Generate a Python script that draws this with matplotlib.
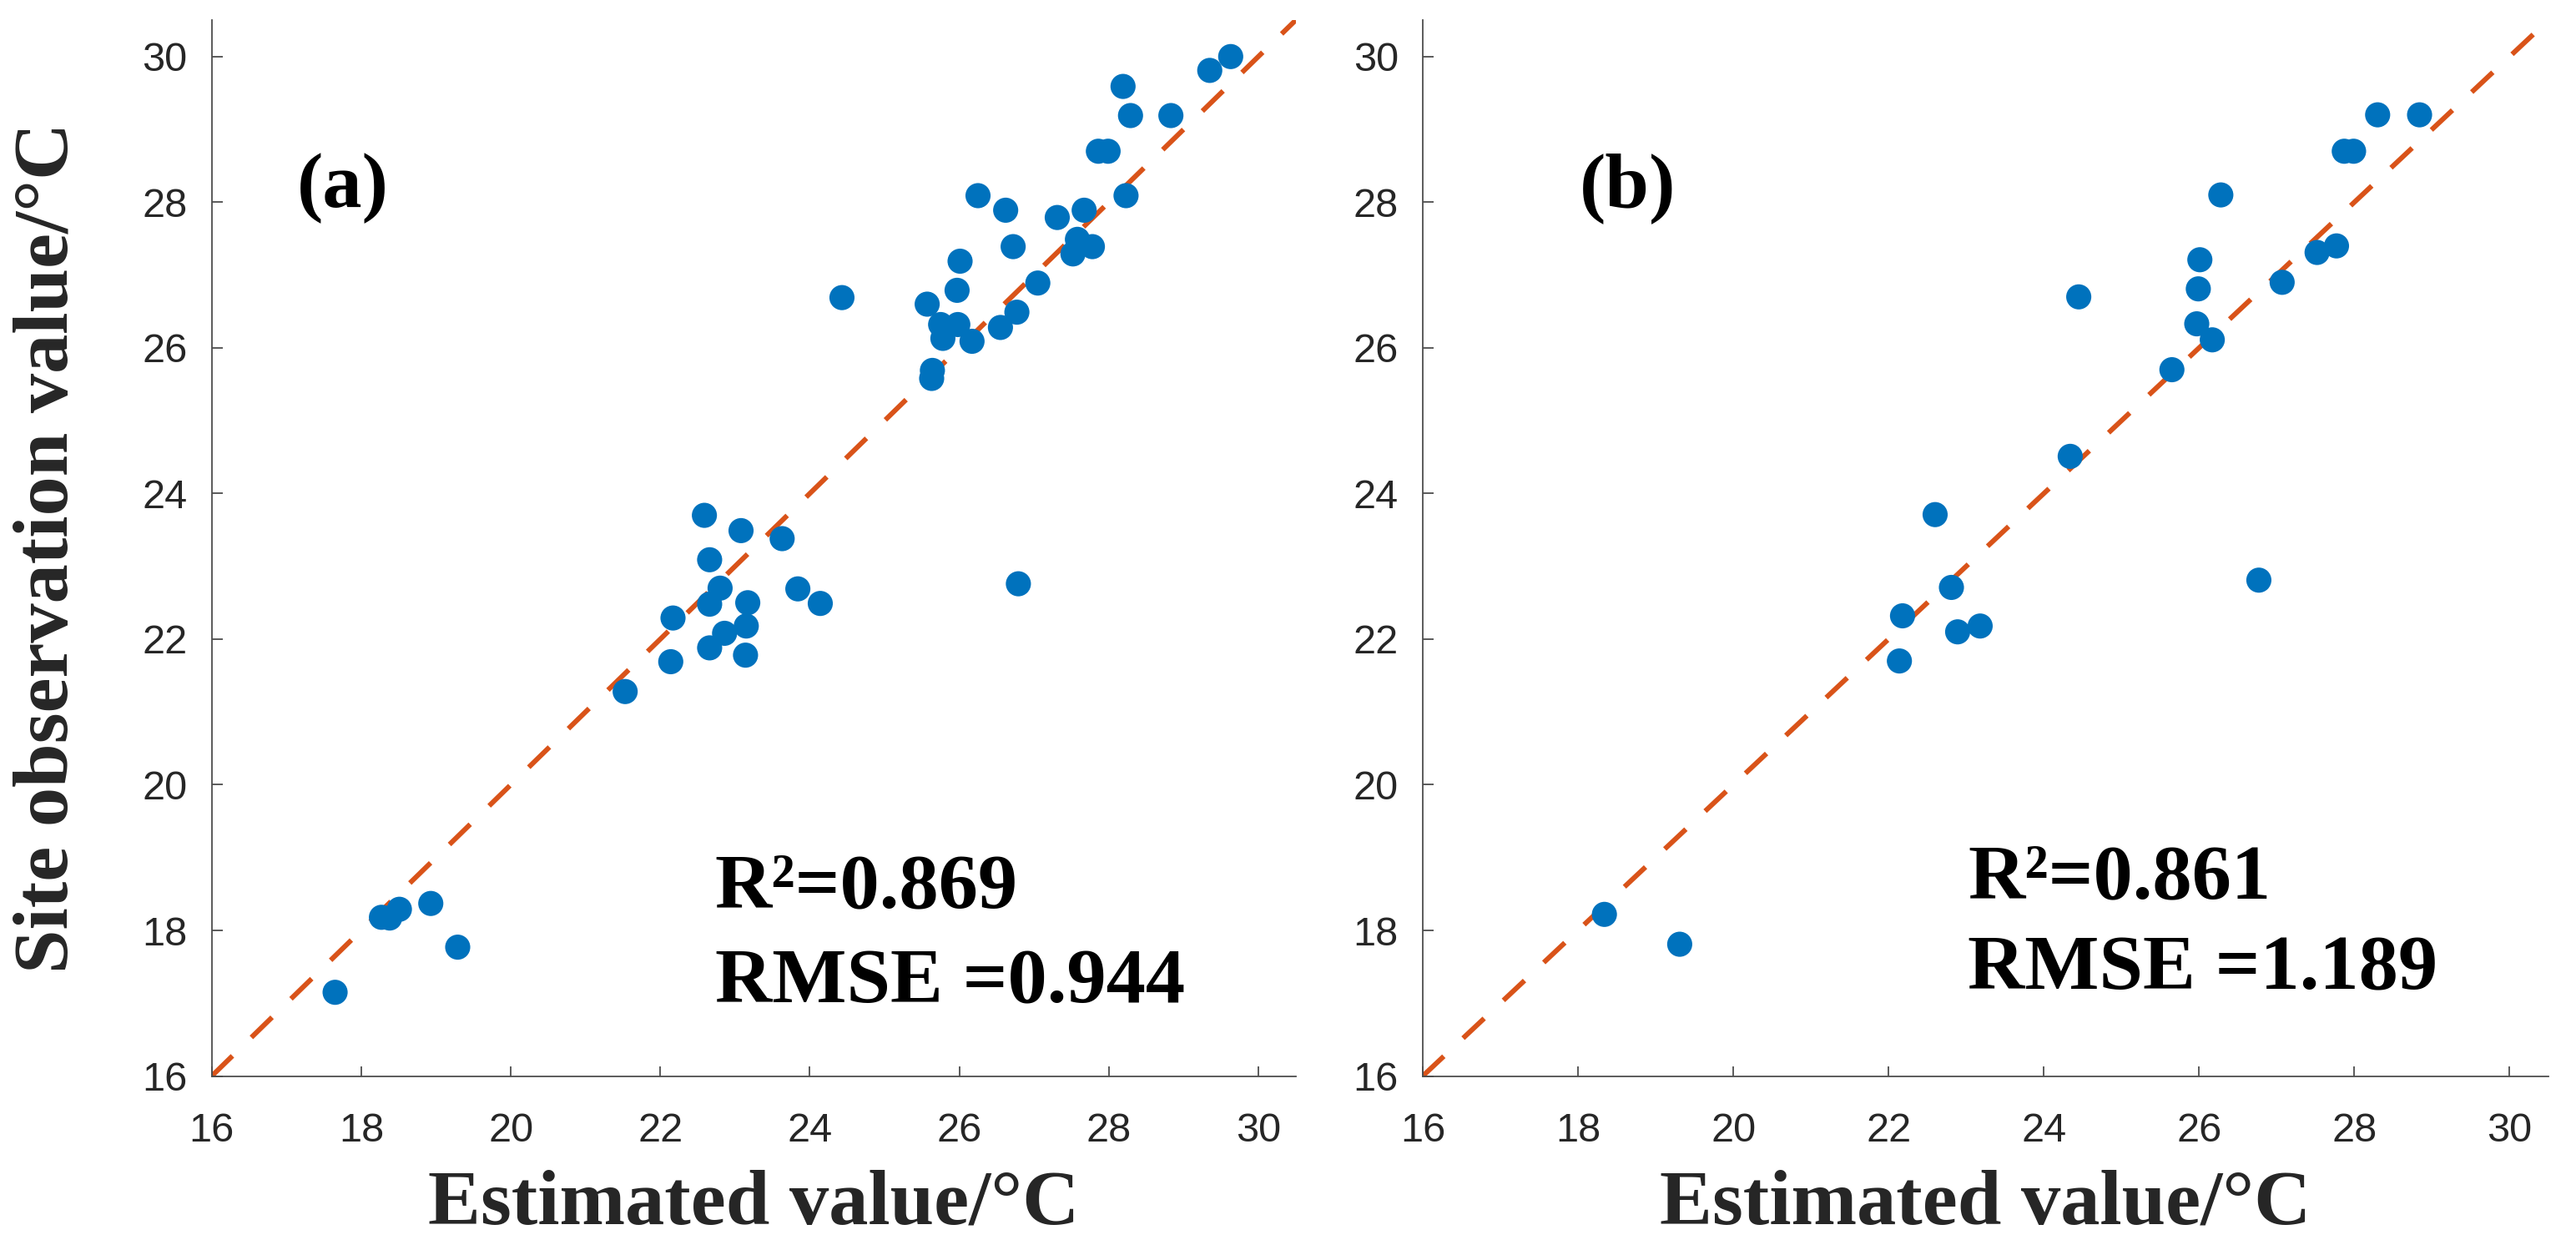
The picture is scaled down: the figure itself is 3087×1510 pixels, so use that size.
import matplotlib
matplotlib.use("Agg")
import matplotlib.pyplot as plt

# panel (a): estimated vs observed
est_a = [17.65, 18.27, 18.38, 18.51, 18.93, 19.29,
         21.53, 22.14, 22.17, 22.59, 22.66, 22.80, 22.66, 22.66, 22.86, 23.08,
         23.17, 23.15, 23.14, 23.63, 23.84, 24.14, 26.79,
         24.43, 25.63, 25.64, 25.57, 25.75, 25.78, 25.98, 25.97, 26.01, 26.17,
         26.55, 26.25, 26.62, 26.72, 26.77, 27.05, 27.31, 27.52, 27.58, 27.78,
         27.67, 27.86, 27.99, 28.23, 28.19, 28.29, 28.83, 29.35, 29.63]
obs_a = [17.15, 18.18, 18.17, 18.29, 18.37, 17.77,
         21.28, 21.69, 22.29, 23.70, 23.09, 22.70, 22.48, 21.88, 22.08, 23.49,
         22.50, 22.18, 21.78, 23.38, 22.69, 22.49, 22.76,
         26.69, 25.58, 25.69, 26.60, 26.32, 26.13, 26.32, 26.79, 27.19, 26.09,
         26.28, 28.09, 27.89, 27.39, 26.49, 26.89, 27.79, 27.29, 27.49, 27.39,
         27.89, 28.70, 28.70, 28.09, 29.59, 29.19, 29.19, 29.81, 30.00]

# panel (b)
est_b = [18.34, 19.31, 22.14, 22.18, 22.60, 22.81, 22.89, 23.18, 24.34, 24.45,
         25.65, 25.97, 25.99, 26.01, 26.17, 26.28, 26.77, 27.07, 27.52, 27.77,
         27.87, 27.99, 28.30, 28.84]
obs_b = [18.22, 17.81, 21.70, 22.32, 23.71, 22.71, 22.10, 22.18, 24.51, 26.70,
         25.70, 26.33, 26.81, 27.21, 26.11, 28.10, 22.81, 26.90, 27.31, 27.40,
         28.70, 28.70, 29.20, 29.20]

stats_a = ["R\u00b2=0.869", "RMSE =0.944"]
stats_b = ["R\u00b2=0.861", "RMSE =1.189"]

ticks = [16, 18, 20, 22, 24, 26, 28, 30]
lim = (16, 30.5)

blue = "#0072BD"
orange = "#D95319"
grey = "#262626"
serif = ["Liberation Serif", "DejaVu Serif"]

plt.rcParams["font.family"] = ["Liberation Sans", "DejaVu Sans"]

fig = plt.figure(figsize=(30.87, 15.10), dpi=100)
ax1 = fig.add_axes([0.0822, 0.146, 0.4208, 0.838])
ax2 = fig.add_axes([0.5523, 0.146, 0.437, 0.838])


def panel(ax, est, obs, tag, tag_x, stats, stats_x, stats_y):
    ax.plot(lim, lim, color=orange, lw=4.3, linestyle=(0, (5.8, 5.3)), zorder=1)
    ax.scatter(est, obs, s=470, color=blue, edgecolors="none", zorder=2)
    ax.set_xlim(lim)
    ax.set_ylim(lim)
    ax.set_xticks(ticks)
    ax.set_yticks(ticks)
    for side in ["top", "right"]:
        ax.spines[side].set_visible(False)
    for side in ["left", "bottom"]:
        ax.spines[side].set_color("#4d4d4d")
        ax.spines[side].set_linewidth(1.3)
    ax.tick_params(direction="in", length=9, width=1.3, color="#4d4d4d",
                   labelsize=35, labelcolor=grey)
    ax.tick_params(axis="x", pad=31)
    ax.tick_params(axis="y", pad=21)
    ax.text(tag_x, 27.93, tag, fontsize=68, fontweight="bold", family=serif,
            ha="left", va="baseline")
    for line, y in zip(stats, stats_y):
        ax.text(stats_x, y, line, fontsize=68, fontweight="bold", family=serif,
                ha="left", va="baseline")
    ax.set_xlabel("Estimated value/\u00b0C", fontsize=68, fontweight="bold",
                  family=serif, color=grey, va="center")
    ax.xaxis.set_label_coords(0.5, -0.122)


panel(ax1, est_a, obs_a, "(a)", 17.14, stats_a, 22.73, [18.32, 17.01])
panel(ax2, est_b, obs_b, "(b)", 18.02, stats_b, 23.02, [18.44, 17.19])

ax1.set_ylabel("Site observation value/\u00b0C", fontsize=68, fontweight="bold",
               family=serif, color=grey, va="center")
ax1.yaxis.set_label_coords(-0.1506, 0.5)

fig.savefig("out.png", dpi=100)
